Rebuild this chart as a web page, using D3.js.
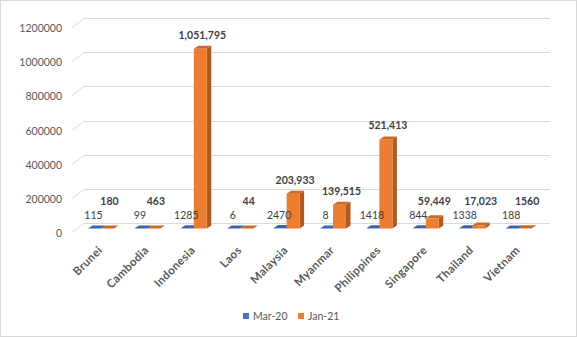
<!DOCTYPE html>
<html><head><meta charset="utf-8">
<script src="https://cdn.jsdelivr.net/npm/d3@7"></script>
<style>
html,body{margin:0;padding:0;background:#fff;}
svg{display:block;font-family:Lato,"Liberation Sans",sans-serif;}
</style></head>
<body>
<svg id="c" width="577" height="337"></svg>
<script>
const categories = ["Brunei","Cambodia","Indonesia","Laos","Malaysia","Myanmar","Philippines","Singapore","Thailand","Vietnam"];
const seriesNames = ["Mar-20","Jan-21"];
const mar20 = [115,99,1285,6,2470,8,1418,844,1338,188];
const jan21 = [180,463,1051795,44,203933,139515,521413,59449,17023,1560];
const mar20Labels = ["115","99","1285","6","2470","8","1418","844","1338","188"];
const jan21Labels = ["180","463","1,051,795","44","203,933","139,515","521,413","59,449","17,023","1560"];
const yTicks = [0,200000,400000,600000,800000,1000000,1200000];

const svg = d3.select("#c");
const W = 577, H = 337;
svg.append("rect").attr("x",0.5).attr("y",0.5).attr("width",W-1).attr("height",H-1)
  .attr("fill","#fff").attr("stroke","#d9d9d9");

const depthX = 12, depthY = 9;      // wall depth
const bdx = 4.5, bdy = -3;          // bar depth
const yBack = d3.scaleLinear().domain([0,1200000]).range([223,18]);
const yFront = d3.scaleLinear().domain([0,1200000]).range([228.5,23.5]);
const x = d3.scaleBand().domain(categories).range([77.8,541.8]);
const xs = d3.scaleBand().domain(seriesNames).range([0,26]);
const backLeft = 84, backRight = 550;

// gridlines
const g = svg.append("g");
yTicks.forEach(t => {
  const yb = Math.round(yBack(t)) + 0.5;
  g.append("path").attr("d",`M${backLeft-depthX},${yb+depthY}L${backLeft},${yb}L${backRight},${yb}`)
    .attr("fill","none").attr("stroke","#d9d9d9").attr("stroke-width",1);
  g.append("text").attr("x",62).attr("y",yb+depthY+4).attr("text-anchor","end")
    .attr("font-size","10.5px").attr("fill","#595959").text(t);
});

const colors = {
  "Mar-20": {front:"#4472C4", top:"#3A64AF", side:"#2F528F"},
  "Jan-21": {front:"#ED7D31", top:"#CC6A25", side:"#AE5A21"}
};

function bar(x0, v, c) {
  const w = xs.bandwidth();
  const y0 = yFront(0), y1 = yFront(v);
  const gb = svg.append("g");
  gb.append("path").attr("d",`M${x0+w},${y1}L${x0+w+bdx},${y1+bdy}L${x0+w+bdx},${y0+bdy}L${x0+w},${y0}Z`).attr("fill",c.side);
  gb.append("rect").attr("x",x0).attr("y",y1).attr("width",w).attr("height",Math.max(0,y0-y1)).attr("fill",c.front);
  gb.append("path").attr("d",`M${x0},${y1}L${x0+bdx},${y1+bdy}L${x0+w+bdx},${y1+bdy}L${x0+w},${y1}Z`).attr("fill",c.top);
}

categories.forEach((cat,i) => {
  const cx = x(cat) + x.bandwidth()/2;
  const bx = cx - 13;
  bar(bx + xs("Mar-20"), mar20[i], colors["Mar-20"]);
  bar(bx + xs("Jan-21"), jan21[i], colors["Jan-21"]);
});

categories.forEach((cat,i) => {
  const cx = x(cat) + x.bandwidth()/2;
  const bx = cx - 13;
  const bw = xs.bandwidth();
  svg.append("text").attr("x", bx + xs("Mar-20") + bw/2 - 1).attr("y", yBack(mar20[i]) - 4)
    .attr("text-anchor","middle").attr("font-size","10.5px").attr("fill","#404040").text(mar20Labels[i]);
  const top = yFront(jan21[i]) + bdy;
  svg.append("text").attr("x", bx + xs("Jan-21") + bw/2 + 2).attr("y", Math.min(top - 7, 205))
    .attr("text-anchor","middle").attr("font-size","10.5px").attr("font-weight","bold").attr("fill","#404040").text(jan21Labels[i]);
  svg.append("text").attr("transform",`translate(${cx+2},${251}) rotate(-45)`)
    .attr("text-anchor","end").attr("font-size","11.5px").attr("font-weight","bold")
    .attr("letter-spacing","0.3px").attr("fill","#595959").text(cat);
});

const leg = svg.append("g");
const legX = [243, 298];
seriesNames.forEach((s,i) => {
  leg.append("rect").attr("x",legX[i]).attr("y",313).attr("width",6).attr("height",6).attr("fill",colors[s].front);
  leg.append("text").attr("x",legX[i]+10).attr("y",320).attr("font-size","10.5px").attr("fill","#595959").text(s);
});
</script>
</body></html>
